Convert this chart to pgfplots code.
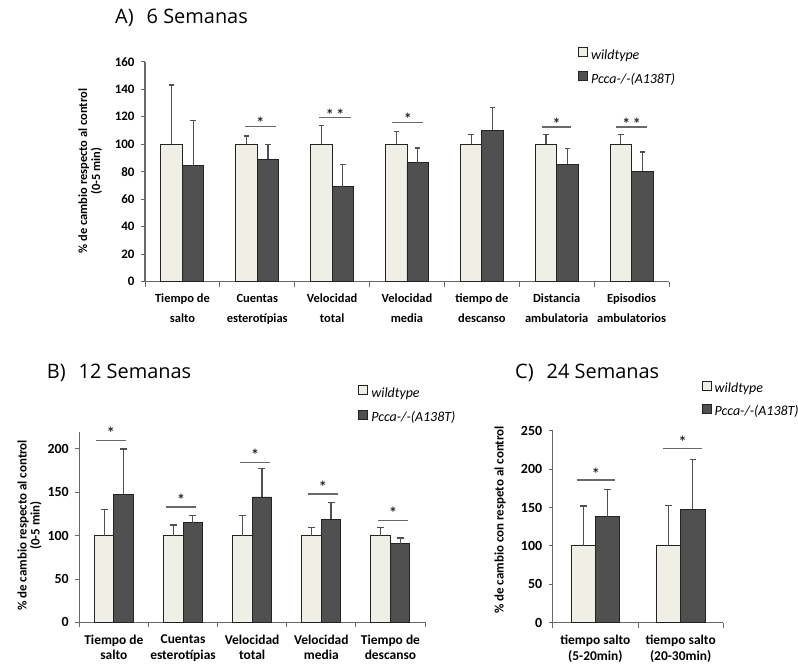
\documentclass[border=0pt]{standalone}
\usepackage{pgfplots}
\pgfplotsset{compat=1.18}
\usepackage{fontspec}
\setmainfont{Carlito}
\newfontfamily\titlefont{Open Sans}
\definecolor{wt}{RGB}{239,239,230}
\definecolor{ko}{RGB}{80,80,80}
\definecolor{axc}{RGB}{105,105,105}
\definecolor{edge}{RGB}{35,35,35}
\definecolor{errc}{RGB}{80,80,80}

\tikzset{sigstar/.style={anchor=base, font=\bfseries\fontsize{16}{16}\selectfont, text=black!85}}

\pgfplotsset{
  panel/.style={
    scale only axis, anchor=south west, clip=false,
    axis x line*=bottom, axis y line*=left,
    axis line style={draw=axc, line width=1.1bp},
    enlargelimits=false,
    tick align=outside,
    major tick length=4bp, minor tick length=5bp,
    ytick style={draw=axc, line width=0.9bp},
    major x tick style={draw=none},
    minor x tick style={draw=axc, line width=0.9bp},
    /pgf/number format/assume math mode=true,
    yticklabel style={font=\bfseries\fontsize{13}{13}\selectfont, xshift=-3bp},
    xticklabel style={align=center, yshift=-5bp},
    legend cell align=left,
    legend image code/.code={\draw[##1] (0bp,-0.5bp) rectangle (9bp,8.5bp);},
    every axis y label/.style={rotate=90, anchor=center, align=center,
      font=\bfseries\fontsize{12.5}{13}\selectfont},
  },
  wtbar/.style={ybar, bar shift=0pt, fill=wt, draw=edge, line width=0.9bp,
    error bars/y dir=plus, error bars/y explicit,
    error bars/error bar style={draw=errc, line width=1.2bp},
    error bars/error mark options={rotate=90, draw=errc, line width=1.2bp, mark size=#1}},
  kobar/.style={ybar, bar shift=0pt, fill=ko, draw=edge, line width=0.9bp,
    error bars/y dir=plus, error bars/y explicit,
    error bars/error bar style={draw=errc, line width=1.2bp},
    error bars/error mark options={rotate=90, draw=errc, line width=1.2bp, mark size=#1}},
  sig/.style={draw=axc, line width=1.1bp, forget plot},
}

\begin{document}
\begin{tikzpicture}
\path[use as bounding box] (0,0) rectangle (798bp,-668bp);

% Titles
\node[anchor=west, font=\titlefont\fontsize{20}{20}\selectfont, inner sep=0pt] at (115bp,-18bp) {A)\hspace{13bp}6 Semanas};
\node[anchor=west, font=\titlefont\fontsize{20}{20}\selectfont, inner sep=0pt] at (46.7bp,-373bp) {B)\hspace{13bp}12 Semanas};
\node[anchor=west, font=\titlefont\fontsize{20}{20}\selectfont, inner sep=0pt] at (515bp,-373bp) {C)\hspace{13bp}24 Semanas};

% ---------------- Panel A ----------------
\begin{axis}[panel, at={(145bp,-281.7bp)}, width=524bp, height=220bp,
  xmin=0.5, xmax=7.5, ymin=0, ymax=160, ytick={0,20,...,160},
  xtick={1,...,7}, minor xtick={0.5,1.5,...,7.5},
  xticklabels={{Tiempo de\\salto},{Cuentas\\esterotípias},{Velocidad\\total},{Velocidad\\media},{tiempo de\\descanso},{Distancia\\ambulatoria},{Episodios\\ambulatorios}},
  xticklabel style={font=\bfseries\fontsize{12.5}{20}\selectfont},
  ylabel={\% de cambio respecto al control\\(0-5 min)},
  ylabel style={at={(axis description cs:-0.1044,0.503)}},
  legend style={at={(axis description cs:0.8263,1.0668)}, anchor=north west, draw=none, fill=none,
    font=\itshape\fontsize{14}{14}\selectfont, inner sep=0pt, row sep=9bp,
    nodes={inner sep=0pt, text height=9bp, text depth=3bp},
    /tikz/every odd column/.append style={column sep=3bp}},
]
\addplot[wtbar=2.7bp, bar width=21.5bp] coordinates {
 (0.8565,100) +- (0,43) (1.8565,100) +- (0,6) (2.8565,100) +- (0,13.5) (3.8565,100) +- (0,9.5)
 (4.8565,100) +- (0,7) (5.8565,100) +- (0,7) (6.8565,100) +- (0,7)};
\addlegendentry{wildtype}
\addplot[kobar=2.7bp, bar width=21.5bp] coordinates {
 (1.1435,84.5) +- (0,33) (2.1435,89) +- (0,10.5) (3.1435,69) +- (0,16.5) (4.1435,86.5) +- (0,10.7)
 (5.1435,110) +- (0,16.5) (6.1435,85.5) +- (0,11.5) (7.1435,80.5) +- (0,13.8)};
\addlegendentry{Pcca-/-(A138T)}
\addplot[sig] coordinates {(1.833,113.2) (2.254,113.2)};
\addplot[sig] coordinates {(2.826,119.3) (3.247,119.3)};
\addplot[sig] coordinates {(3.806,116.1) (4.214,116.1)};
\addplot[sig] coordinates {(5.809,112.5) (6.196,112.5)};
\addplot[sig] coordinates {(6.787,112.5) (7.21,112.5)};
\node[sigstar] at (axis cs:2.04,111.5) {*};
\node[sigstar] at (axis cs:3.04,117.6) {*\,*};
\node[sigstar] at (axis cs:4.01,114.4) {*};
\node[sigstar] at (axis cs:6.0,110.8) {*};
\node[sigstar] at (axis cs:7.0,110.8) {*\,*};
\end{axis}

% ---------------- Panel B ----------------
\begin{axis}[panel, at={(79.3bp,-622.3bp)}, width=345.7bp, height=190.7bp,
  xmin=0.5, xmax=5.5, ymin=0, ymax=220, ytick={0,50,...,200},
  yticklabel style={font=\bfseries\fontsize{14}{14}\selectfont},
  xtick={1,...,5}, minor xtick={0.5,1.5,...,5.5},
  xticklabels={{Tiempo de\\salto},{Cuentas\\esterotípias},{Velocidad\\total},{Velocidad\\media},{Tiempo de\\descanso}},
  xticklabel style={font=\bfseries\fontsize{13.5}{15.5}\selectfont},
  ylabel={\% de cambio respecto al control\\(0-5 min)},
  ylabel style={at={(axis description cs:-0.144,0.508)}, font=\bfseries\fontsize{13}{13}\selectfont},
  legend style={at={(axis description cs:0.807,1.244)}, anchor=north west, draw=none, fill=none,
    font=\itshape\fontsize{14}{14}\selectfont, inner sep=0pt, row sep=9.7bp,
    nodes={inner sep=0pt, text height=9bp, text depth=3bp},
    /tikz/every odd column/.append style={column sep=3bp}},
]
\addplot[wtbar=3.5bp, bar width=19.5bp] coordinates {
 (0.8589,100) +- (0,30) (1.8589,100) +- (0,12.3) (2.8589,100) +- (0,23) (3.8589,100) +- (0,9.6) (4.8589,100) +- (0,9.6)};
\addlegendentry{wildtype}
\addplot[kobar=3.5bp, bar width=19.5bp] coordinates {
 (1.1411,147.7) +- (0,52.3) (2.1411,115) +- (0,8) (3.1411,144.6) +- (0,32.4) (4.1411,118.8) +- (0,19.2) (5.1411,90.4) +- (0,6.9)};
\addlegendentry{Pcca-/-(A138T)}
\addplot[sig] coordinates {(0.74,209.6) (1.174,209.6)};
\addplot[sig] coordinates {(1.754,133) (2.188,133)};
\addplot[sig] coordinates {(2.826,184) (3.26,184)};
\addplot[sig] coordinates {(3.805,148) (4.239,148)};
\addplot[sig] coordinates {(4.826,117.7) (5.252,117.7)};
\node[sigstar, yshift=2bp] at (axis cs:0.957,209.6) {*};
\node[sigstar, yshift=2bp] at (axis cs:1.971,133) {*};
\node[sigstar, yshift=2bp] at (axis cs:3.043,184) {*};
\node[sigstar, yshift=2bp] at (axis cs:4.022,148) {*};
\node[sigstar, yshift=2bp] at (axis cs:5.04,117.7) {*};
\end{axis}

% ---------------- Panel C ----------------
\begin{axis}[panel, at={(552.7bp,-622.7bp)}, width=170.6bp, height=192bp,
  xmin=0.5, xmax=2.5, ymin=0, ymax=250, ytick={0,50,...,250},
  yticklabel style={font=\bfseries\fontsize{14}{14}\selectfont, xshift=0bp},
  xtick={1,2}, minor xtick={0.5,1.5,2.5},
  xticklabels={{tiempo salto\\(5-20min)},{tiempo salto\\(20-30min)}},
  xticklabel style={font=\bfseries\fontsize{13.5}{15.5}\selectfont},
  ylabel={\% de cambio con respeto al control},
  ylabel style={at={(axis description cs:-0.309,0.535)}, font=\bfseries\fontsize{13}{13}\selectfont},
  legend style={at={(axis description cs:0.873,1.26)}, anchor=north west, draw=none, fill=none,
    font=\itshape\fontsize{14}{14}\selectfont, inner sep=0pt, row sep=8bp,
    nodes={inner sep=0pt, text height=9bp, text depth=3bp},
    /tikz/every odd column/.append style={column sep=3bp}},
]
\addplot[wtbar=3.3bp, bar width=24.3bp] coordinates {
 (0.8576,100) +- (0,52) (1.8576,100) +- (0,53)};
\addlegendentry{wildtype}
\addplot[kobar=3.3bp, bar width=24.3bp] coordinates {
 (1.1424,138) +- (0,35.2) (2.1424,147.6) +- (0,65.1)};
\addlegendentry{Pcca-/-(A138T)}
\addplot[sig] coordinates {(0.782,185.8) (1.231,185.8)};
\addplot[sig] coordinates {(1.796,226.6) (2.253,226.6)};
\node[sigstar, yshift=1bp] at (axis cs:1.006,185.8) {*};
\node[sigstar, yshift=1bp] at (axis cs:2.024,226.6) {*};
\end{axis}
\end{tikzpicture}
\end{document}
